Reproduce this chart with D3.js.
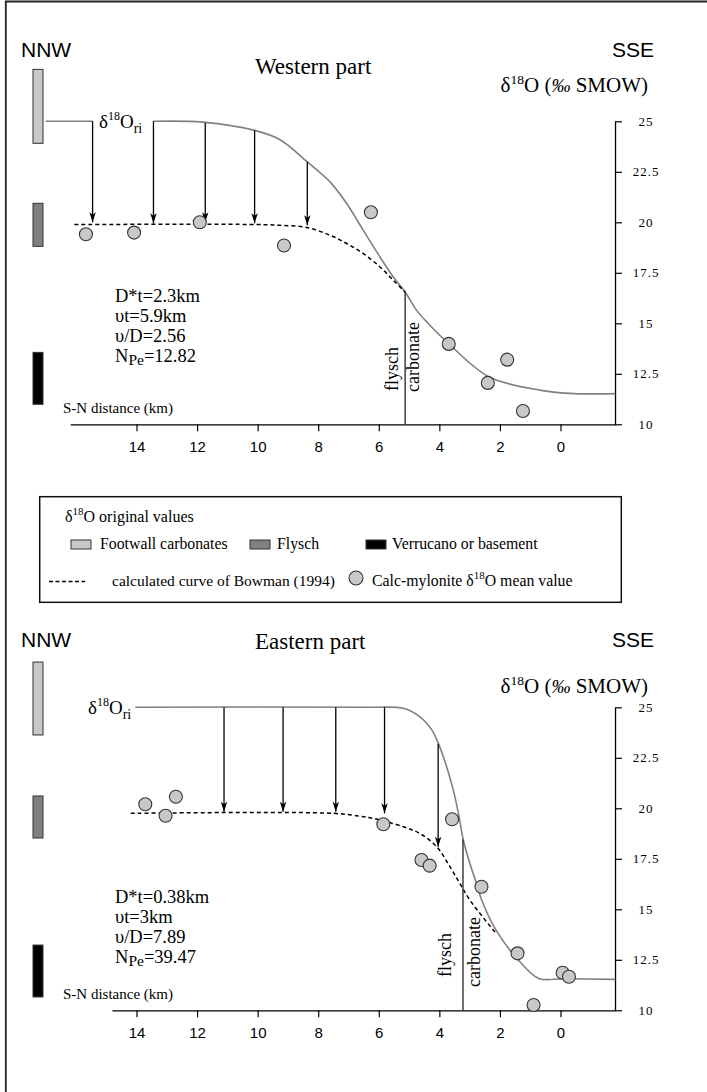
<!DOCTYPE html>
<html>
<head>
<meta charset="utf-8">
<script src="https://cdn.jsdelivr.net/npm/d3@7"></script>
<style>
  html, body { margin: 0; padding: 0; background: #fff; }
  svg { display: block; }
</style>
</head>
<body>
<svg id="chart" width="707" height="1092"></svg>
<script>
// ---------------- DATA ----------------
const xTicks = [14, 12, 10, 8, 6, 4, 2, 0];
const yTicks = [25, 22.5, 20, 17.5, 15, 12.5, 10];

// Western part
const westCurveLeft = [[17.0, 25], [15.44, 25]];
const westCurve = [[13.44, 25], [11.81, 24.96], [10.10, 24.55], [9.26, 24.09], [8.36, 22.99], [7.61, 22.0],
  [7.06, 20.93], [6.51, 19.6], [5.96, 18.28], [5.52, 17.29], [5.13, 16.55], [4.75, 15.64], [4.36, 14.98],
  [3.69, 13.99], [2.35, 12.34], [0.64, 11.68], [-0.47, 11.52], [-1.81, 11.52]];
const westModel = [[16.05, 19.89], [10.02, 19.89], [9.26, 19.85], [8.36, 19.74], [7.61, 19.36], [7.06, 18.95],
  [6.51, 18.45], [5.96, 17.79], [5.52, 17.13], [5.13, 16.55]];
const westArrowX = [15.45, 13.44, 11.73, 10.10, 8.36];
const westArrowFrom = [25, 25, 24.92, 24.55, 22.99];
const westArrowTo = [20.0, 19.95, 20.0, 19.95, 19.85];
const westPointX = [15.67, 14.08, 11.91, 9.13, 6.26, 3.69, 2.40, 1.76, 1.24];
const westPointY = [19.41, 19.49, 20.0, 18.85, 20.5, 13.98, 12.05, 13.2, 10.66];
const westBars = [[27.57, 23.91], [20.94, 18.81], [13.56, 10.99]];
const westContact = [5.13, 16.55];
const westParams = ["D*t=2.3km", "υt=5.9km", "υ/D=2.56", "12.82"];

// Eastern part
const eastCurve = [[14.04, 25], [6.28, 25], [5.19, 24.95], [4.64, 24.53], [4.25, 23.88], [4.03, 23.2],
  [3.76, 22.06], [3.54, 20.9], [3.37, 19.75], [3.21, 18.43], [2.99, 17.26], [2.77, 16.27], [2.6, 15.45],
  [2.13, 13.97], [1.39, 12.49], [0.72, 11.58], [-0.1, 11.56], [-1.81, 11.53]];
const eastModel = [[14.19, 19.75], [7.49, 19.75], [6.6, 19.6], [6.18, 19.5], [5.19, 19.09], [4.64, 18.75],
  [4.09, 18.1], [3.65, 17.11], [3.32, 16.27], [2.99, 15.45], [2.13, 13.81]];
const eastArrowX = [11.11, 9.16, 7.42, 5.81, 4.04];
const eastArrowFrom = [25, 25, 25, 25, 23.2];
const eastArrowTo = [19.83, 19.83, 19.83, 19.75, 18.1];
const eastPointX = [13.71, 13.04, 12.70, 5.85, 4.59, 4.32, 3.58, 2.61, 1.42, 0.89, -0.07, -0.28];
const eastPointY = [20.2, 19.63, 20.57, 19.21, 17.44, 17.16, 19.46, 16.12, 12.82, 10.26, 11.86, 11.66];
const eastBars = [[27.24, 23.63], [20.61, 18.53], [13.23, 10.66]];
const eastContact = [3.22, 18.45];
const eastParams = ["D*t=0.38km", "υt=3km", "υ/D=7.89", "39.47"];

const legendSwatches = ["Footwall carbonates", "Flysch", "Verrucano or basement"];

// ---------------- DRAW ----------------
const svg = d3.select("#chart");
const SERIF = "Liberation Serif, Times New Roman, serif";
const SANS = "Liberation Sans, Arial, sans-serif";
const barColors = ["#c8c8c8", "#808080", "#000000"];

svg.append("defs").append("marker")
  .attr("id", "arrow")
  .attr("viewBox", "0 -4 10 8")
  .attr("refX", 10).attr("refY", 0)
  .attr("markerUnits", "userSpaceOnUse")
  .attr("markerWidth", 11).attr("markerHeight", 8)
  .attr("orient", "auto")
  .append("path").attr("d", "M0,-3.2L10,0L0,3.2L2.5,0Z").attr("fill", "#000");

// frame
svg.append("path").attr("d", "M5.8,1092 L5.8,1.5 L707,1.5")
  .attr("fill", "none").attr("stroke", "#222").attr("stroke-width", 1.8);

// x scale (same for both panels)
const x = d3.scaleLinear().domain([14, 0]).range([136.5, 560.5]);

function panel(cfg) {
  const y = d3.scaleLinear().domain([10, 25]).range([cfg.yBottom, cfg.yBottom - 303]);
  const g = svg.append("g");

  // header texts
  g.append("text").attr("x", 21).attr("y", cfg.headY).attr("font-family", SANS).attr("font-size", 21).text("NNW");
  g.append("text").attr("x", 654).attr("y", cfg.headY).attr("font-family", SANS).attr("font-size", 21)
    .attr("text-anchor", "end").text("SSE");
  g.append("text").attr("x", 255).attr("y", cfg.titleY).attr("font-family", SERIF).attr("font-size", 23).text(cfg.title);

  const yl = g.append("text").attr("x", 648).attr("y", cfg.unitY).attr("font-family", SERIF)
    .attr("font-size", 21).attr("text-anchor", "end");
  yl.append("tspan").text("δ");
  yl.append("tspan").attr("font-size", 13.5).attr("dy", -8).text("18");
  yl.append("tspan").attr("dy", 8).text("O (");
  yl.append("tspan").attr("font-style", "italic").attr("font-size", 19).text("‰");
  yl.append("tspan").text(" SMOW)");

  // left bars (original values)
  g.selectAll("rect.bar").data(cfg.bars).join("rect").attr("class", "bar")
    .attr("x", 33).attr("width", 10)
    .attr("y", d => y(d[0])).attr("height", d => y(d[1]) - y(d[0]))
    .attr("fill", (d, i) => barColors[i]).attr("stroke", "#333").attr("stroke-width", 1);

  // axes
  const xa = d3.scaleLinear().domain([cfg.axisStart, -1.8]).range([x(cfg.axisStart), x(-1.8)]);
  const gx = g.append("g").attr("transform", `translate(0,${cfg.yBottom})`)
    .call(d3.axisBottom(xa).tickValues(xTicks).tickSize(7).tickSizeOuter(0).tickPadding(10.5).tickFormat(d3.format("d")));
  gx.select(".domain").attr("stroke-width", 1.3);
  gx.selectAll(".tick line").attr("stroke-width", 1.2);
  gx.selectAll("text").attr("font-family", SANS).attr("font-size", 15);

  const gy = g.append("g").attr("transform", `translate(${x(-1.8)},0)`)
    .call(d3.axisRight(y).tickValues(yTicks).tickSize(7).tickSizeOuter(0).tickFormat(d => String(d)));
  gy.select(".domain").attr("stroke-width", 1.3);
  gy.selectAll(".tick line").attr("stroke-width", 1.2);
  gy.selectAll("text").attr("font-family", SERIF).attr("font-size", 13).attr("letter-spacing", 1)
    .attr("text-anchor", "middle").attr("x", 31);

  const line = d3.line().x(d => x(d[0])).y(d => y(d[1])).curve(d3.curveCatmullRom.alpha(0.5));

  // initial curve (gray)
  cfg.curves.forEach(c => {
    g.append("path").attr("d", line(c)).attr("fill", "none").attr("stroke", "#808080").attr("stroke-width", 1.6);
  });
  // modelled curve (dashed)
  g.append("path").attr("d", line(cfg.model)).attr("fill", "none").attr("stroke", "#000")
    .attr("stroke-width", 1.5).attr("stroke-dasharray", "4,3");

  // contact line
  g.append("line").attr("x1", x(cfg.contact[0])).attr("x2", x(cfg.contact[0]))
    .attr("y1", y(cfg.contact[1])).attr("y2", y(10)).attr("stroke", "#222").attr("stroke-width", 1.3);
  const cx = x(cfg.contact[0]);
  g.append("text").attr("transform", `translate(${cx + cfg.flyschDx},${cfg.flyschY}) rotate(-90)`)
    .attr("font-family", SERIF).attr("font-size", 18).text("flysch");
  g.append("text").attr("transform", `translate(${cx + cfg.carbDx},${cfg.carbY}) rotate(-90)`)
    .attr("font-family", SERIF).attr("font-size", 18).text("carbonate");

  // arrows
  g.selectAll("line.arrow").data(cfg.arrowX).join("line").attr("class", "arrow")
    .attr("x1", d => x(d)).attr("x2", d => x(d))
    .attr("y1", (d, i) => y(cfg.arrowFrom[i])).attr("y2", (d, i) => y(cfg.arrowTo[i]))
    .attr("stroke", "#000").attr("stroke-width", 1.3).attr("marker-end", "url(#arrow)");

  // data points
  g.selectAll("circle.pt").data(cfg.px).join("circle").attr("class", "pt")
    .attr("cx", d => x(d)).attr("cy", (d, i) => y(cfg.py[i])).attr("r", 6.5)
    .attr("fill", "#c8c8c8").attr("stroke", "#333").attr("stroke-width", 1.1);

  // δ18Ori label
  const ol = g.append("text").attr("x", cfg.oriX).attr("y", y(25) + 7).attr("font-family", SERIF).attr("font-size", 19);
  ol.append("tspan").text("δ");
  ol.append("tspan").attr("font-size", 12).attr("dy", -8).text("18");
  ol.append("tspan").attr("dy", 8).text("O");
  ol.append("tspan").attr("font-size", 14).attr("dy", 5).text("ri");

  // parameters
  cfg.params.forEach((p, i) => {
    const t = g.append("text").attr("x", 115).attr("y", cfg.paramY + i * 20).attr("font-family", SERIF).attr("font-size", 18.5);
    if (i < 3) t.text(p);
    else {
      t.append("tspan").text("N");
      t.append("tspan").attr("font-size", 15.5).attr("dy", 3).text("Pe");
      t.append("tspan").attr("dy", -3).text("=" + p);
    }
  });

  g.append("text").attr("x", 63).attr("y", cfg.yBottom - 11).attr("font-family", SERIF).attr("font-size", 15)
    .text("S-N distance (km)");
}

panel({
  yBottom: 424.3, headY: 57, titleY: 74, unitY: 92, title: "Western part",
  bars: westBars, axisStart: 16.19, curves: [westCurveLeft, westCurve], model: westModel,
  contact: westContact, flyschDx: -7, flyschY: 391, carbDx: 14, carbY: 392,
  arrowX: westArrowX, arrowFrom: westArrowFrom, arrowTo: westArrowTo,
  px: westPointX, py: westPointY, oriX: 99, params: westParams, paramY: 302
});

panel({
  yBottom: 1010.3, headY: 647, titleY: 649, unitY: 693, title: "Eastern part",
  bars: eastBars, axisStart: 14.81, curves: [eastCurve], model: eastModel,
  contact: eastContact, flyschDx: -12, flyschY: 977, carbDx: 17, carbY: 987,
  arrowX: eastArrowX, arrowFrom: eastArrowFrom, arrowTo: eastArrowTo,
  px: eastPointX, py: eastPointY, oriX: 88, params: eastParams, paramY: 903
});

// ---------------- LEGEND ----------------
const lg = svg.append("g");
lg.append("rect").attr("x", 39.7).attr("y", 496.7).attr("width", 581.6).attr("height", 105.6)
  .attr("fill", "none").attr("stroke", "#111").attr("stroke-width", 1.5);
const l1 = lg.append("text").attr("x", 65).attr("y", 522).attr("font-family", SERIF).attr("font-size", 16);
l1.append("tspan").text("δ");
l1.append("tspan").attr("font-size", 11).attr("dy", -7).text("18");
l1.append("tspan").attr("dy", 7).text("O original values");

const swX = [71, 250, 366], txX = [100, 277, 392];
legendSwatches.forEach((s, i) => {
  lg.append("rect").attr("x", swX[i]).attr("y", 540).attr("width", 20).attr("height", 9)
    .attr("fill", barColors[i]).attr("stroke", "#333").attr("stroke-width", 1);
  lg.append("text").attr("x", txX[i]).attr("y", 549).attr("font-family", SERIF).attr("font-size", 15.8).text(s);
});
lg.append("line").attr("x1", 49).attr("x2", 85).attr("y1", 581.5).attr("y2", 581.5)
  .attr("stroke", "#000").attr("stroke-width", 1.5).attr("stroke-dasharray", "4,2.5");
lg.append("text").attr("x", 112).attr("y", 586).attr("font-family", SERIF).attr("font-size", 15.5)
  .text("calculated curve of Bowman (1994)");
lg.append("circle").attr("cx", 356).attr("cy", 578).attr("r", 7)
  .attr("fill", "#c8c8c8").attr("stroke", "#333").attr("stroke-width", 1.1);
const l3 = lg.append("text").attr("x", 372).attr("y", 586).attr("font-family", SERIF).attr("font-size", 15.8);
l3.append("tspan").text("Calc-mylonite δ");
l3.append("tspan").attr("font-size", 11).attr("dy", -7).text("18");
l3.append("tspan").attr("dy", 7).text("O mean value");
</script>
</body>
</html>
